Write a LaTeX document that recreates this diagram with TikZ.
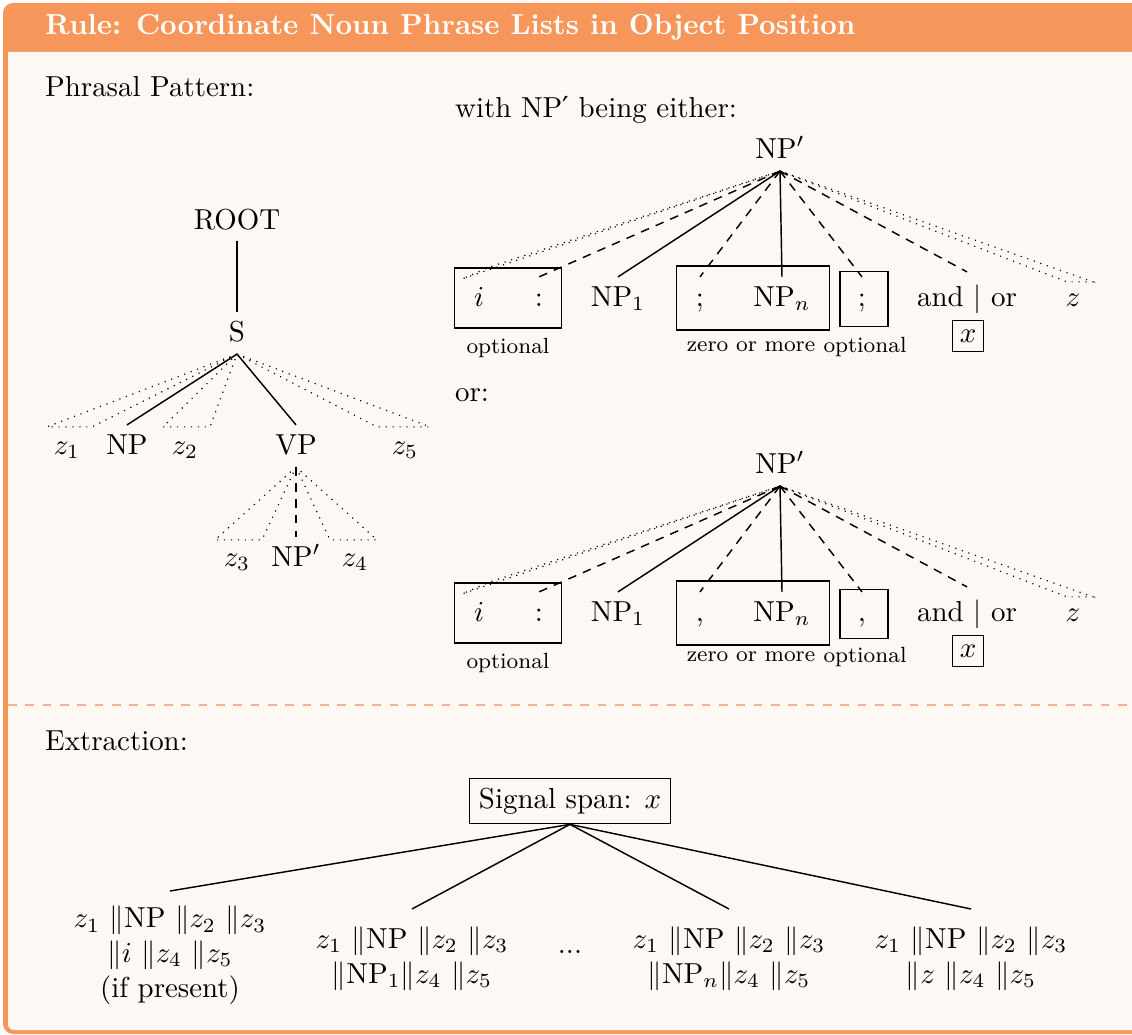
\documentclass[tikz,border=0pt]{standalone}
\usepackage{amsmath}
\usepackage{fontspec}
\usepackage{tikz}
\usetikzlibrary{positioning, calc}
\newfontfamily\primefont{DejaVu Sans}
\definecolor{rulehead}{HTML}{F7965A}
\definecolor{rulebg}  {HTML}{FDF8F4}
\definecolor{rulesep} {HTML}{F2B395}

\tikzset{
  leaf/.style={inner sep=3pt, text height=1.6ex, text depth=.3ex},
  branch/.style={line width=.5pt},
  opt/.style={line width=.5pt, dash pattern=on 3pt off 2.5pt},
  roof/.style={line width=.4pt, dotted},
  optbox/.style={draw, line width=.5pt, inner sep=0pt},
  note/.style={font=\fontsize{7.6}{9}\selectfont},
}

\begin{document}
\begin{tikzpicture}[x=0.346pt, y=-0.346pt]
  \useasboundingbox (0,0) rectangle (1132,1035);
  % frame
  \fill[rulehead, rounded corners=3.5pt] (3,3) rectangle (1170,1034);
  \fill[rulebg] (1170,1030) -- (1170,52) -- (8,52) [rounded corners=2pt] -- (8,1030) -- cycle;
  \node[anchor=west, text=white, font=\bfseries] (title) at (35,27) {Rule: Coordinate Noun Phrase Lists in Object Position};
  \draw[rulesep, dashed, line width=.5pt] (8,705) -- (1132,705);

  \node[anchor=west] (phrasal) at (35,87) {Phrasal Pattern:};
  \node[anchor=west] (with) at (445,110) {with NP{\primefont ′} being either:};
  \node[anchor=west] (or) at (445,395) {or:};
  \node[anchor=west] (extract) at (35,741) {Extraction:};

  % sentence tree
  \node (root) at (237,220) {ROOT};
  \node[leaf] (s) at (237,333) {S};
  \draw[branch] (root) -- (s);
  \node[leaf] (z1) at (67,446) {$z_1$};
  \node[leaf] (np) at (127,446) {NP};
  \node[leaf] (z2) at (185,446) {$z_2$};
  \node[leaf] (vp) at (296,446) {VP};
  \node[leaf] (z5) at (405,446) {$z_5$};
  \draw[roof] (s.south) -- ($(z1.north)+(-20,2)$) -- ($(z1.north)+(25,2)$) -- cycle;
  \draw[roof] (s.south) -- ($(z2.north)+(-22,2)$) -- ($(z2.north)+(25,2)$) -- cycle;
  \draw[roof] (s.south) -- ($(z5.north)+(-28,2)$) -- ($(z5.north)+(25,2)$) -- cycle;
  \draw[branch] (s.south) -- (np.north);
  \draw[branch] (s.south) -- (vp.north);
  \node[leaf] (z3) at (237,558) {$z_3$};
  \node[leaf] (npp) at (296,558) {NP$'$};
  \node[leaf] (z4) at (355,558) {$z_4$};
  \draw[roof] (vp.south) -- ($(z3.north)+(-22,3)$) -- ($(z3.north)+(25,3)$) -- cycle;
  \draw[roof] (vp.south) -- ($(z4.north)+(-25,3)$) -- ($(z4.north)+(22,3)$) -- cycle;
  \draw[opt] (vp.south) -- (npp.north);

  % the two forms of NP'
  \foreach \t/\dy/\sp/\nd/\bs in {a/0/;/0/0, b/315/{,}/-5/-2} {
    \node[leaf] (top\t) at (780,{150+\dy}) {NP$'$};
    \node[optbox, minimum width=37pt, minimum height=20.8pt] (boxi\t) at (508,{298+\dy}) {};
    \node[optbox, minimum width=53pt, minimum height=22.1pt] (boxn\t) at (753,{298+\dy}) {};
    \node[optbox, minimum width=16.6pt, minimum height=19pt+\bs pt] (boxs\t) at (864,{299+\dy}) {};
    \node[leaf] (i\t) at (479,{298+\dy}) {$i$};
    \node[leaf] (col\t) at (539,{298+\dy}) {:};
    \node[leaf] (npo\t) at (618,{298+\dy}) {NP$_1$};
    \node[leaf] (sep\t) at (700,{298+\dy}) {\sp};
    \node[leaf] (npn\t) at (782,{298+\dy}) {NP$_n$};
    \node[leaf] (lsep\t) at (862,{298+\dy}) {\sp};
    \node[leaf] (andor\t) at (967,{298+\dy}) {and $|$ or};
    \node[draw, inner sep=2.5pt, minimum height=10.7pt] (x\t) at (968,{336+\dy}) {$x$};
    \node[leaf] (z\t) at (1073,{298+\dy}) {$z$};
    \node[note] (opti\t) at (508,{348+\dy}) {optional};
    \node[note] (zero\t) at (751,{347+\dy+\nd}) {zero or more};
    \node[note] (opts\t) at (865,{347+\dy+\nd}) {optional};
    \draw[roof] (top\t.south) -- ($(i\t.north)+(-17,2)$) -- ($(i\t.north)+(11,-10)$) -- cycle;
    \draw[opt] (top\t.south) -- (col\t.north);
    \draw[branch] (top\t.south) -- (npo\t.north);
    \draw[opt] (top\t.south) -- (sep\t.north);
    \draw[branch] (top\t.south) -- (npn\t.north);
    \draw[opt] (top\t.south) -- (lsep\t.north);
    \draw[opt] (top\t.south) -- ($(andor\t.north)+(0,-5)$);
    \draw[roof] (top\t.south) -- ($(z\t.north)+(-6,5)$) -- ($(z\t.north)+(20,5)$) -- cycle;
  }

  % extraction tree
  \node[draw] (signal) at (570,801) {Signal span: $x$};
  \node[anchor=north, align=center, inner sep=5pt] (e1) at (170,891)
    {$z_1$ $\|$NP $\|z_2$ $\|z_3$\\ $\|i$ $\|z_4$ $\|z_5$\\ (if present)};
  \node[anchor=north, align=center, inner sep=6pt] (e2) at (412,909)
    {$z_1$ $\|$NP $\|z_2$ $\|z_3$\\ $\|$NP$_1$$\|z_4$ $\|z_5$};
  \node (dots) at (570,952) {...};
  \node[anchor=north, align=center, inner sep=6pt] (e3) at (729,909)
    {$z_1$ $\|$NP $\|z_2$ $\|z_3$\\ $\|$NP$_n$$\|z_4$ $\|z_5$};
  \node[anchor=north, align=center, inner sep=6pt] (e4) at (971,909)
    {$z_1$ $\|$NP $\|z_2$ $\|z_3$\\ $\|z$ $\|z_4$ $\|z_5$};
  \foreach \e in {e1,e2,e3,e4}
    \draw[branch] (signal.south) -- (\e.north);
\end{tikzpicture}
\end{document}
